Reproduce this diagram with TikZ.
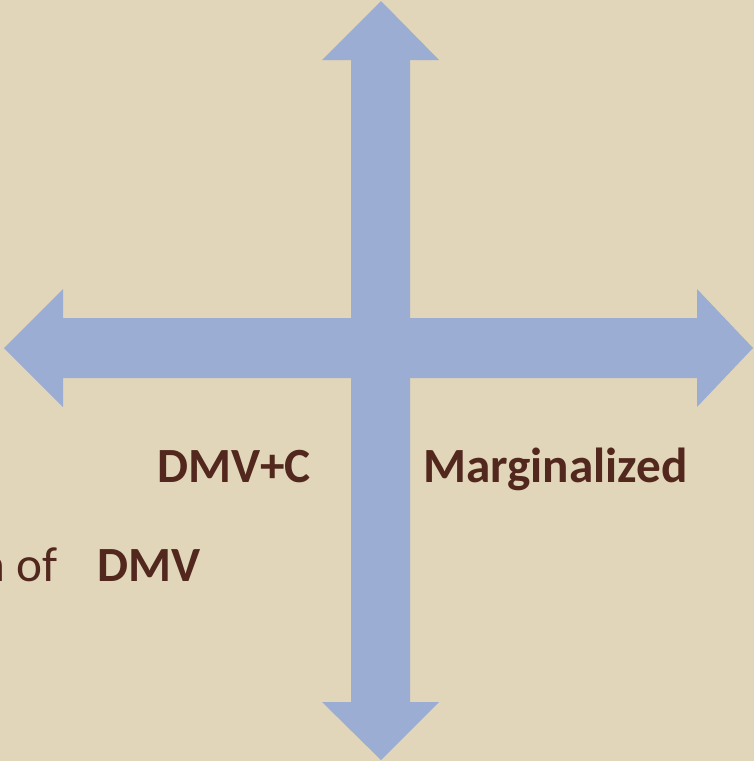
\documentclass[tikz,border=0pt]{standalone}
\usepackage{fontspec}
\setmainfont{Carlito}
\usepackage{tikz}
\definecolor{sand}{HTML}{E1D6B9}
\definecolor{axisblue}{HTML}{9BADD3}
\definecolor{darkbrown}{HTML}{52271D}

\begin{document}
\begin{tikzpicture}[x=0.02cm, y=-0.02cm,
		label/.style={text=darkbrown, font=\fontsize{28}{30}\selectfont\bfseries, inner sep=0pt, anchor=base west},
		plain/.style={text=darkbrown, font=\fontsize{28}{30}\selectfont, inner sep=0pt, anchor=base east}
	]
	\fill[sand] (0,0) rectangle (754,761);
	\useasboundingbox (0,0) rectangle (754,761);
	\clip (0,0) rectangle (754,761);

	% vertical double arrow
	\fill[axisblue] (381,1) -- (439,60) -- (410,60) -- (410,702) -- (439,702) -- (381,760)
		-- (322,702) -- (351,702) -- (351,60) -- (322,60) -- cycle;
	% horizontal double arrow
	\fill[axisblue] (4,348) -- (63,289) -- (63,318) -- (697,318) -- (697,289) -- (753,348)
		-- (697,407) -- (697,378) -- (63,378) -- (63,407) -- cycle;

	\node[label] (dmvc) at (157,482) {DMV+C};
	\node[label] (marg) at (423,482) {Marginalized};
	\node[label] (dmv) at (97,581) {DMV};
	\node[plain] (intof) at (58,581) {n of};
\end{tikzpicture}
\end{document}
